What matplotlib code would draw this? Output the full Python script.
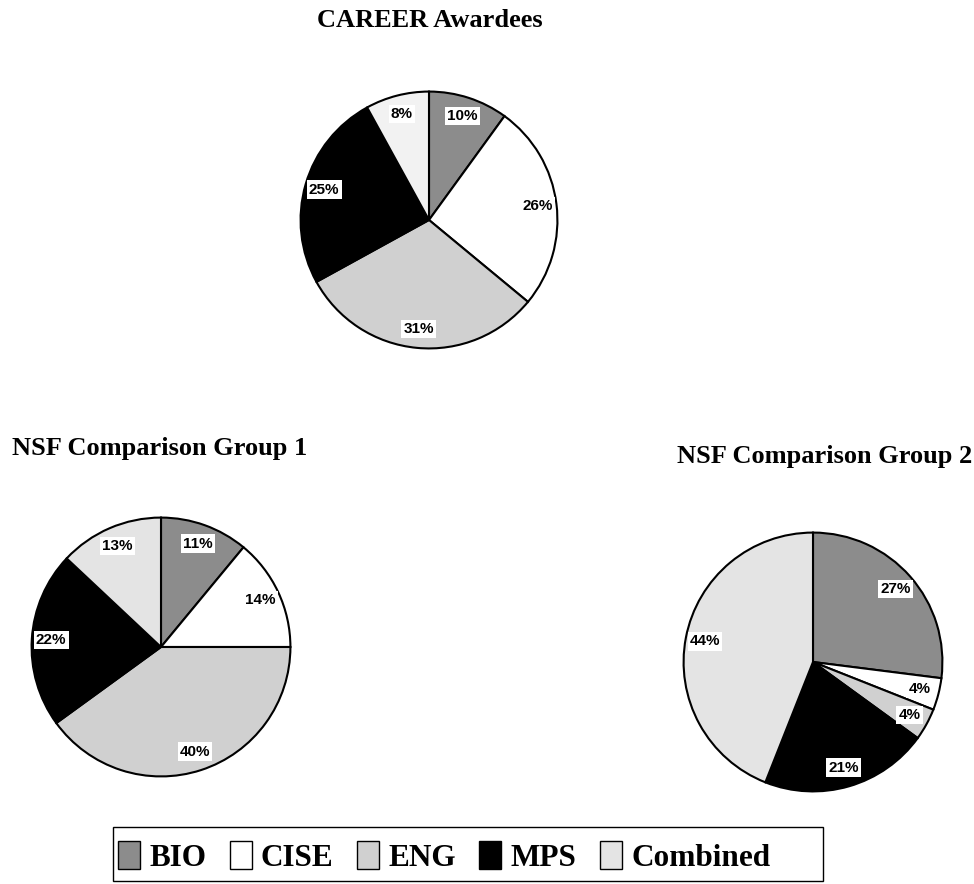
import matplotlib.pyplot as plt
import matplotlib.patches as mpatches

W, H = 974, 884

categories = ['BIO', 'CISE', 'ENG', 'MPS', 'Combined']
career = [10, 26, 31, 25, 8]
group1 = [11, 14, 40, 22, 13]
group2 = [27, 4, 4, 21, 44]

colors = ['#8c8c8c', '#ffffff', '#d0d0d0', '#000000', '#e4e4e4']
colors_top = ['#8c8c8c', '#ffffff', '#d0d0d0', '#000000', '#f2f2f2']

fig = plt.figure(figsize=(W / 100, H / 100), dpi=100)


def pie_at(cx, cy, r, values, cols):
    # place an axes so the pie of radius 1 lands at pixel centre (cx, cy)
    ax = fig.add_axes([(cx - r) / W, (H - cy - r) / H, 2 * r / W, 2 * r / H])
    wedges, texts, autotexts = ax.pie(
        values, colors=cols, startangle=90, counterclock=False,
        autopct='%d%%', pctdistance=0.85, radius=1,
        wedgeprops=dict(edgecolor='black', linewidth=1.5))
    for t in autotexts:
        t.set_fontfamily('Liberation Sans')
        t.set_fontweight('bold')
        t.set_fontsize(11)
        t.set_bbox(dict(facecolor='white', edgecolor='none', pad=1.5))
    ax.set_xlim(-1.02, 1.02)
    ax.set_ylim(-1.02, 1.02)
    ax.set_aspect('equal')
    ax.axis('off')
    return ax


pie_at(429, 220, 131, career, colors_top)
pie_at(161, 647, 132, group1, colors)
pie_at(813, 662, 132, group2, colors)

title_kw = dict(fontfamily='Liberation Serif', fontweight='bold', fontsize=19,
                ha='center', va='baseline')
fig.text(430 / W, 1 - 27 / H, 'CAREER Awardees', **title_kw)
fig.text(160 / W, 1 - 455 / H, 'NSF Comparison Group 1', **title_kw)
fig.text(825 / W, 1 - 463 / H, 'NSF Comparison Group 2', **title_kw)

handles = [mpatches.Patch(facecolor=c, edgecolor='black', linewidth=1)
           for c in colors]
leg = fig.legend(handles, categories, loc='center left', ncol=5,
                 bbox_to_anchor=(118 / W, 1 - 857 / H),
                 prop=dict(family='Liberation Serif', weight='bold', size=22.5),
                 frameon=False, handlelength=0.7, handleheight=1.0,
                 handletextpad=0.3, columnspacing=0.75,
                 borderpad=0, borderaxespad=0)

# legend box, wider on the right as in the original
fig.patches.append(mpatches.Rectangle((113 / W, 1 - 881 / H), 710 / W, 54 / H,
                                      transform=fig.transFigure, fill=False,
                                      edgecolor='black', linewidth=1))

fig.savefig('out.png', dpi=100, facecolor='white')
